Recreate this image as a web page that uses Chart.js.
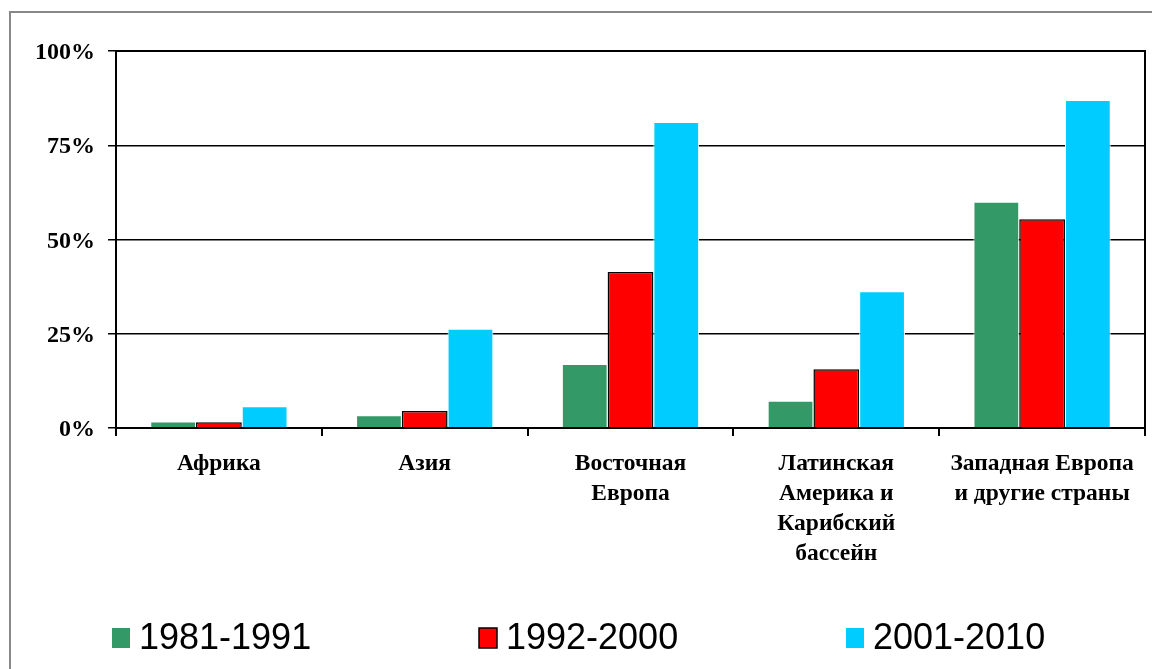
<!DOCTYPE html>
<html>
<head>
<meta charset="utf-8">
<script src="https://cdn.jsdelivr.net/npm/chart.js@4.4.0/dist/chart.umd.min.js"></script>
<style>
  html, body { margin: 0; padding: 0; background: #fff; }
  #wrap { width: 1152px; height: 669px; position: relative; }
</style>
</head>
<body>
<div id="wrap"><canvas id="myChart" width="1152" height="669"></canvas></div>
<script>
const regions = [
  'Африка',
  'Азия',
  ['Восточная', 'Европа'],
  ['Латинская', 'Америка и', 'Карибский', 'бассейн'],
  ['Западная Европа', 'и другие страны']
];
const periods = ['1981-1991', '1992-2000', '2001-2010'];
const share1981 = [1.7, 3.4, 17, 7.2, 60];
const share1992 = [1.5, 4.5, 41.4, 15.6, 55.4];
const share2001 = [5.8, 26.3, 81.2, 36.3, 87];
const yTicks = [0, 25, 50, 75, 100];

const colors = ['#339966', '#FF0000', '#00CCFF'];
const borders = ['#ffffff', '#000000', '#ffffff'];

// frame around the whole picture + box around plot area
const framePlugin = {
  id: 'frame',
  beforeDraw(chart) {
    const c = chart.ctx;
    c.save();
    c.fillStyle = '#fff';
    c.fillRect(0, 0, chart.width, chart.height);
    c.strokeStyle = '#888';
    c.lineWidth = 2;
    c.strokeRect(10, 12, chart.width + 20, chart.height + 20);
    c.restore();
  },
  afterDraw(chart) {
    const a = chart.chartArea;
    const c = chart.ctx;
    c.save();
    c.strokeStyle = '#000';
    c.lineWidth = 2;
    c.beginPath();
    c.moveTo(a.left, a.top);
    c.lineTo(a.right, a.top);
    c.lineTo(a.right, a.bottom);
    c.stroke();
    c.restore();
  }
};

// legend spread out along the bottom like the original
const legendPlugin = {
  id: 'wideLegend',
  afterDraw(chart) {
    const c = chart.ctx;
    c.save();
    chart.data.datasets.forEach((ds, i) => {
      const x = 112 + i * 367;
      const y = 628;
      c.fillStyle = ds.backgroundColor;
      c.fillRect(x, y, 18, 20);
      if (i === 1) {
        c.strokeStyle = '#000';
        c.lineWidth = 1.5;
        c.strokeRect(x, y, 18, 20);
      }
      c.fillStyle = '#000';
      c.font = '36px "Liberation Sans"';
      c.textBaseline = 'middle';
      c.fillText(ds.label, x + 27, y + 11);
    });
    c.restore();
  }
};

const ctx = document.getElementById('myChart').getContext('2d');
const myChart = new Chart(ctx, {
  type: 'bar',
  data: {
    labels: regions,
    datasets: [share1981, share1992, share2001].map((vals, i) => ({
      label: periods[i],
      data: vals,
      backgroundColor: colors[i],
      borderColor: borders[i],
      borderWidth: i === 1 ? 1.5 : 1,
      categoryPercentage: 0.667,
      barPercentage: 1.0
    }))
  },
  options: {
    responsive: false,
    animation: false,
    layout: { padding: { left: 0, right: 7, top: 51, bottom: 0 } },
    plugins: {
      legend: { display: false },
      tooltip: { enabled: false }
    },
    scales: {
      x: {
        afterFit(scale) { scale.height = 241; },
        grid: {
          offset: true,
          drawOnChartArea: false,
          drawTicks: true,
          tickLength: 8,
          color: '#000',
          lineWidth: 2
        },
        border: { display: true, color: '#000', width: 2 },
        ticks: {
          color: '#000',
          padding: 13,
          maxRotation: 0,
          autoSkip: false,
          font: { family: '"Liberation Serif"', size: 23.5, weight: 'bold', lineHeight: 1.28 }
        }
      },
      y: {
        min: 0,
        max: 100,
        afterFit(scale) { scale.width = 116; },
        afterBuildTicks(scale) { scale.ticks = yTicks.map(v => ({ value: v })); },
        grid: {
          color: '#000',
          lineWidth: 1.5,
          tickLength: 8
        },
        border: { display: true, color: '#000', width: 2 },
        ticks: {
          color: '#000',
          padding: 13,
          labelOffset: 2,
          callback: v => v + '%',
          font: { family: '"Liberation Serif"', size: 24, weight: 'bold' }
        }
      }
    }
  },
  plugins: [framePlugin, legendPlugin]
});
</script>
</body>
</html>
